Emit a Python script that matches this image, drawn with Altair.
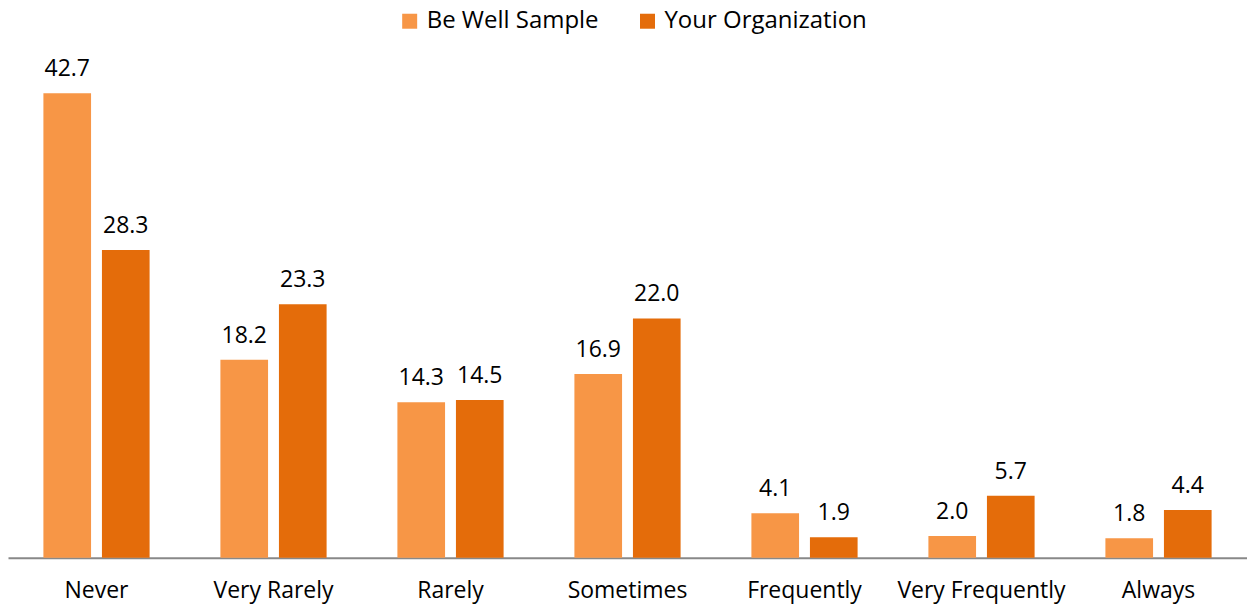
import altair as alt
import pandas as pd

categories = ["Never", "Very Rarely", "Rarely", "Sometimes", "Frequently", "Very Frequently", "Always"]
series = ["Be Well Sample", "Your Organization"]
be_well = [42.7, 18.2, 14.3, 16.9, 4.1, 2.0, 1.8]
your_org = [28.3, 23.3, 14.5, 22.0, 1.9, 5.7, 4.4]
colors = ["#F79646", "#E46C0A"]

rows = []
for c, a, b in zip(categories, be_well, your_org):
    rows.append({"cat": c, "series": series[0], "value": a, "label": f"{a:.1f}"})
    rows.append({"cat": c, "series": series[1], "value": b, "label": f"{b:.1f}"})
df = pd.DataFrame(rows)

FONT = "Open Sans"

x = alt.X("cat:N", sort=categories, title=None,
          scale=alt.Scale(paddingInner=0.40, paddingOuter=0.2),
          axis=alt.Axis(labelAngle=0, labelFontSize=23, labelFont=FONT, labelColor="#000000",
                        labelPadding=22, ticks=False, domainColor="#888888", domainWidth=2,
                        grid=False))
xoff = alt.XOffset("series:N", sort=series, scale=alt.Scale(paddingInner=0.186, paddingOuter=0))
y = alt.Y("value:Q", scale=alt.Scale(domain=[0, 45], nice=False), axis=None)

bars = alt.Chart(df).mark_bar().encode(
    x=x, xOffset=xoff, y=y,
    color=alt.Color("series:N", sort=series,
                    scale=alt.Scale(domain=series, range=colors),
                    legend=alt.Legend(title=None, orient="none", legendX=390, legendY=-59,
                                      direction="horizontal", symbolType="square",
                                      symbolSize=225, symbolStrokeWidth=0, labelFont=FONT,
                                      labelFontSize=24, labelColor="#000000", labelOffset=5,
                                      labelLimit=400, columnPadding=36, symbolOpacity=1)),
)

text = alt.Chart(df).mark_text(baseline="bottom", dy=-12, fontSize=23, font=FONT, color="#000000").encode(
    x=alt.X("cat:N", sort=categories), xOffset=xoff, y=y, text="label:N"
)

chart = (bars + text).properties(
    width=1240, height=490,
    autosize=alt.AutoSizeParams(type="none"),
    padding={"left": 0, "top": 60, "right": 0, "bottom": 48},
).configure_view(stroke=None)

chart.save("out.html", embed_options={"renderer": "svg", "actions": False})
